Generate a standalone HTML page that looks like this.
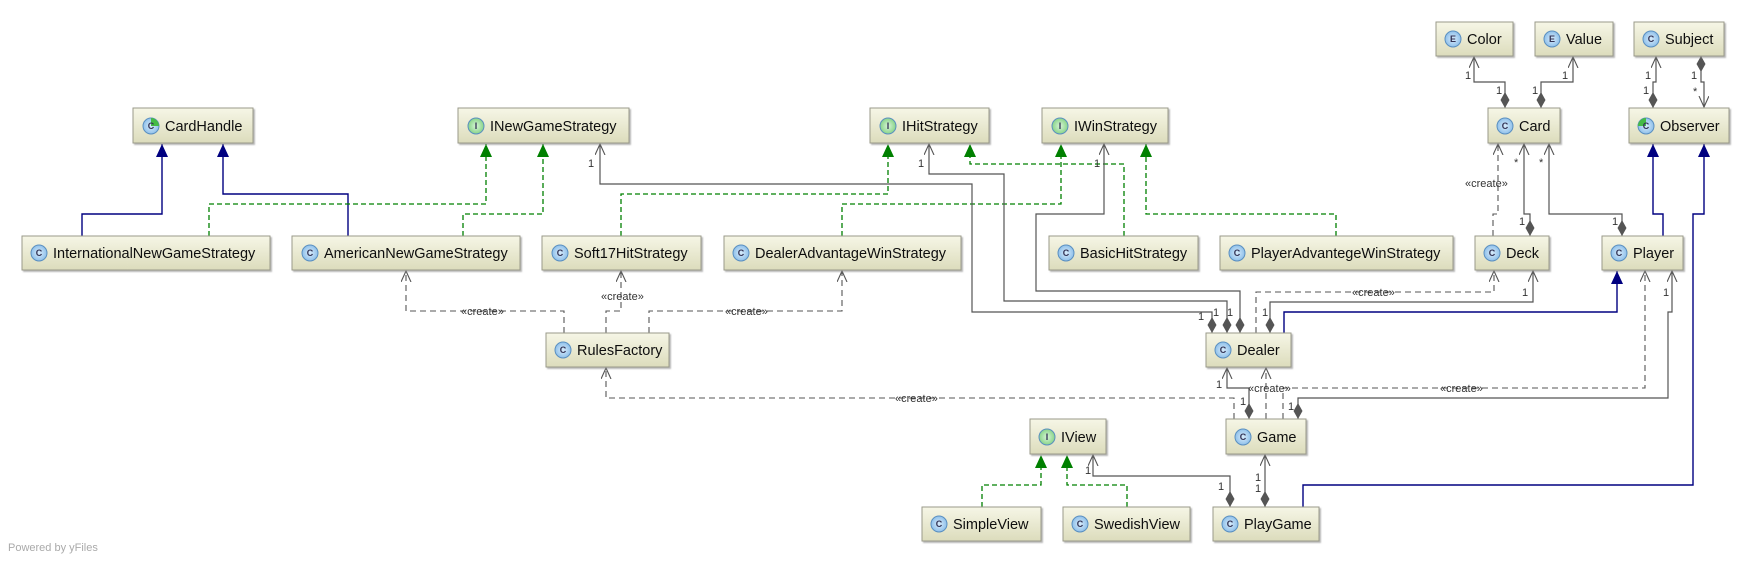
<!DOCTYPE html>
<html><head><meta charset="utf-8"><style>
html,body{margin:0;padding:0;background:#fff}
svg{display:block}
.n rect.b{fill:url(#g);stroke:#9a9a8a;stroke-width:1}
.n text{font-family:"Liberation Sans",sans-serif;font-size:14.5px;fill:#111}
.ic{stroke:#5a8fc0;stroke-width:1}
.it{font-family:"Liberation Sans",sans-serif;font-size:9px;fill:#334;font-weight:bold}
.a{fill:none;stroke:#555;stroke-width:1.2}
.d{fill:none;stroke:#555;stroke-width:1.1;stroke-dasharray:6,4}
.gr{fill:none;stroke:#008000;stroke-width:1.3;stroke-dasharray:5,3}
.bl{fill:none;stroke:#000080;stroke-width:1.4}
.l{font-family:"Liberation Sans",sans-serif;font-size:11px;fill:#333}
</style></head><body>
<svg width="1753" height="562" viewBox="0 0 1753 562" xmlns="http://www.w3.org/2000/svg">
<defs>
<linearGradient id="g" x1="0" y1="0" x2="0" y2="1"><stop offset="0" stop-color="#f6f6e6"/><stop offset="1" stop-color="#dcdcbc"/></linearGradient>
<radialGradient id="cb"><stop offset="0" stop-color="#d8ecfb"/><stop offset="1" stop-color="#8fc0ea"/></radialGradient>
<radialGradient id="cg"><stop offset="0" stop-color="#d8f5d8"/><stop offset="1" stop-color="#88d488"/></radialGradient>
<marker id="oa" markerUnits="userSpaceOnUse" markerWidth="12" markerHeight="12" refX="11" refY="5" orient="auto"><path d="M0,0 L11,5 L0,10" fill="none" stroke="#555" stroke-width="1.1"/></marker>
<marker id="tb" markerUnits="userSpaceOnUse" markerWidth="14" markerHeight="12" refX="13" refY="6" orient="auto"><path d="M0,0 L13,6 L0,12 z" fill="#000080"/></marker>
<marker id="tg" markerUnits="userSpaceOnUse" markerWidth="14" markerHeight="12" refX="13" refY="6" orient="auto"><path d="M0,0 L13,6 L0,12 z" fill="#008000"/></marker>
<marker id="dm" markerUnits="userSpaceOnUse" markerWidth="16" markerHeight="10" refX="0" refY="4.5" orient="auto"><path d="M0,4.5 L8,0 L16,4.5 L8,9 z" fill="#555"/></marker>
<filter id="sh"><feDropShadow dx="1.5" dy="1.5" stdDeviation="0.8" flood-color="#888" flood-opacity="0.6"/></filter>
</defs>

<!-- edges -->
<polyline class="bl" marker-end="url(#tb)" points="82,236 82,214 162,214 162,144"/>
<polyline class="bl" marker-end="url(#tb)" points="348,236 348,194 223,194 223,144"/>
<polyline class="gr" marker-end="url(#tg)" points="209,236 209,204 486,204 486,144"/>
<polyline class="gr" marker-end="url(#tg)" points="463,236 463,214 543,214 543,144"/>
<polyline class="gr" marker-end="url(#tg)" points="621,236 621,194 888,194 888,144"/>
<polyline class="gr" marker-end="url(#tg)" points="842,236 842,204 1061,204 1061,144"/>
<polyline class="gr" marker-end="url(#tg)" points="1124,236 1124,164 970,164 970,144"/>
<polyline class="gr" marker-end="url(#tg)" points="1336,236 1336,214 1146,214 1146,144"/>
<polyline class="a" marker-start="url(#dm)" marker-end="url(#oa)" points="1212,333 1212,312 972,312 972,184 600,184 600,144"/>
<polyline class="a" marker-start="url(#dm)" marker-end="url(#oa)" points="1227,333 1227,301 1004,301 1004,174 929,174 929,144"/>
<polyline class="a" marker-start="url(#dm)" marker-end="url(#oa)" points="1240,333 1240,291 1036,291 1036,214 1104,214 1104,144"/>
<polyline class="d" marker-end="url(#oa)" points="1256,333 1256,292 1494,292 1494,271"/>
<polyline class="a" marker-start="url(#dm)" marker-end="url(#oa)" points="1270,333 1270,302 1533,302 1533,271"/>
<polyline class="bl" marker-end="url(#tb)" points="1284,333 1284,312 1617,312 1617,271"/>
<polyline class="a" marker-start="url(#dm)" marker-end="url(#oa)" points="1249,419 1249,388 1227,388 1227,368"/>
<polyline class="d" marker-end="url(#oa)" points="1266,419 1266,368"/>
<polyline class="d" marker-end="url(#oa)" points="1283,419 1283,388 1645,388 1645,271"/>
<polyline class="a" marker-start="url(#dm)" marker-end="url(#oa)" points="1298,419 1298,398 1668,398 1668,312 1672,312 1672,271"/>
<polyline class="d" marker-end="url(#oa)" points="1234,419 1234,398 606,398 606,368"/>
<polyline class="a" marker-start="url(#dm)" marker-end="url(#oa)" points="1230,507 1230,476 1093,476 1093,455"/>
<polyline class="a" marker-start="url(#dm)" marker-end="url(#oa)" points="1265,507 1265,455"/>
<polyline class="gr" marker-end="url(#tg)" points="982,507 982,485 1041,485 1041,455"/>
<polyline class="gr" marker-end="url(#tg)" points="1127,507 1127,485 1067,485 1067,455"/>
<polyline class="bl" marker-end="url(#tb)" points="1303,507 1303,485 1693,485 1693,214 1704,214 1704,144"/>
<polyline class="bl" marker-end="url(#tb)" points="1663,236 1663,214 1653,214 1653,144"/>
<polyline class="a" marker-start="url(#dm)" marker-end="url(#oa)" points="1505,108 1505,82 1474,82 1474,57"/>
<polyline class="a" marker-start="url(#dm)" marker-end="url(#oa)" points="1541,108 1541,82 1573,82 1573,57"/>
<polyline class="a" marker-start="url(#dm)" marker-end="url(#oa)" points="1653,108 1653,82 1656,82 1656,57"/>
<polyline class="a" marker-start="url(#dm)" marker-end="url(#oa)" points="1701,56 1701,82 1704,82 1704,107"/>
<polyline class="d" marker-end="url(#oa)" points="1493,236 1493,214 1498,214 1498,144"/>
<polyline class="a" marker-start="url(#dm)" marker-end="url(#oa)" points="1530,236 1530,214 1524,214 1524,144"/>
<polyline class="a" marker-start="url(#dm)" marker-end="url(#oa)" points="1622,236 1622,214 1549,214 1549,144"/>
<polyline class="d" marker-end="url(#oa)" points="564,333 564,311 406,311 406,271"/>
<polyline class="d" marker-end="url(#oa)" points="606,333 606,311 621,311 621,271"/>
<polyline class="d" marker-end="url(#oa)" points="649,333 649,311 842,311 842,271"/>

<!-- labels -->
<g class="l">
<text x="461" y="315">«create»</text>
<text x="601" y="300">«create»</text>
<text x="725" y="315">«create»</text>
<text x="1352" y="296">«create»</text>
<text x="1248" y="392">«create»</text>
<text x="1440" y="392">«create»</text>
<text x="895" y="402">«create»</text>
<text x="1465" y="187">«create»</text>
<text x="588" y="167">1</text><text x="918" y="167">1</text><text x="1094" y="167">1</text>
<text x="1198" y="320">1</text><text x="1213" y="316">1</text><text x="1227" y="316">1</text><text x="1262" y="316">1</text>
<text x="1522" y="296">1</text><text x="1663" y="296">1</text>
<text x="1216" y="388">1</text><text x="1240" y="405">1</text><text x="1288" y="410">1</text>
<text x="1085" y="474">1</text><text x="1218" y="490">1</text><text x="1255" y="481">1</text><text x="1255" y="492">1</text>
<text x="1465" y="79">1</text><text x="1496" y="94">1</text><text x="1562" y="79">1</text><text x="1532" y="94">1</text>
<text x="1645" y="79">1</text><text x="1643" y="94">1</text><text x="1691" y="79">1</text><text x="1693" y="95">*</text>
<text x="1514" y="166">*</text><text x="1539" y="166">*</text>
<text x="1519" y="225">1</text><text x="1612" y="225">1</text>
</g>

<!-- nodes -->
<g class="n" filter="url(#sh)">
<g><rect class="b" x="133" y="108" width="120" height="35"/><circle class="ic" cx="151" cy="126" r="8" fill="url(#cb)"/><path d="M151,118 A8,8 0 0 1 159,126 L151,126 z" fill="#44bb44"/><text x="165" y="131">CardHandle</text></g>
<g><rect class="b" x="458" y="108" width="171" height="35"/><circle class="ic" cx="476" cy="126" r="8" fill="url(#cg)" stroke="#6a6"/><text x="490" y="131">INewGameStrategy</text></g>
<g><rect class="b" x="870" y="108" width="119" height="35"/><circle class="ic" cx="888" cy="126" r="8" fill="url(#cg)" stroke="#6a6"/><text x="902" y="131">IHitStrategy</text></g>
<g><rect class="b" x="1042" y="108" width="126" height="35"/><circle class="ic" cx="1060" cy="126" r="8" fill="url(#cg)" stroke="#6a6"/><text x="1074" y="131">IWinStrategy</text></g>
<g><rect class="b" x="1436" y="22" width="77" height="34"/><circle class="ic" cx="1453" cy="39" r="8" fill="url(#cb)"/><text x="1467" y="44">Color</text></g>
<g><rect class="b" x="1535" y="22" width="78" height="34"/><circle class="ic" cx="1552" cy="39" r="8" fill="url(#cb)"/><text x="1566" y="44">Value</text></g>
<g><rect class="b" x="1634" y="22" width="90" height="34"/><circle class="ic" cx="1651" cy="39" r="8" fill="url(#cb)"/><text x="1665" y="44">Subject</text></g>
<g><rect class="b" x="1488" y="108" width="72" height="35"/><circle class="ic" cx="1505" cy="126" r="8" fill="url(#cb)"/><text x="1519" y="131">Card</text></g>
<g><rect class="b" x="1629" y="108" width="100" height="35"/><circle class="ic" cx="1646" cy="126" r="8" fill="url(#cb)"/><path d="M1646,118 A8,8 0 0 0 1638,126 L1646,126 z" fill="#44bb44"/><text x="1660" y="131">Observer</text></g>
<g><rect class="b" x="22" y="236" width="248" height="34"/><circle class="ic" cx="39" cy="253" r="8" fill="url(#cb)"/><text x="53" y="258">InternationalNewGameStrategy</text></g>
<g><rect class="b" x="292" y="236" width="228" height="34"/><circle class="ic" cx="310" cy="253" r="8" fill="url(#cb)"/><text x="324" y="258">AmericanNewGameStrategy</text></g>
<g><rect class="b" x="542" y="236" width="159" height="34"/><circle class="ic" cx="560" cy="253" r="8" fill="url(#cb)"/><text x="574" y="258">Soft17HitStrategy</text></g>
<g><rect class="b" x="724" y="236" width="237" height="34"/><circle class="ic" cx="741" cy="253" r="8" fill="url(#cb)"/><text x="755" y="258">DealerAdvantageWinStrategy</text></g>
<g><rect class="b" x="1049" y="236" width="149" height="34"/><circle class="ic" cx="1066" cy="253" r="8" fill="url(#cb)"/><text x="1080" y="258">BasicHitStrategy</text></g>
<g><rect class="b" x="1220" y="236" width="233" height="34"/><circle class="ic" cx="1237" cy="253" r="8" fill="url(#cb)"/><text x="1251" y="258">PlayerAdvantegeWinStrategy</text></g>
<g><rect class="b" x="1475" y="236" width="74" height="34"/><circle class="ic" cx="1492" cy="253" r="8" fill="url(#cb)"/><text x="1506" y="258">Deck</text></g>
<g><rect class="b" x="1602" y="236" width="81" height="34"/><circle class="ic" cx="1619" cy="253" r="8" fill="url(#cb)"/><text x="1633" y="258">Player</text></g>
<g><rect class="b" x="546" y="333" width="123" height="34"/><circle class="ic" cx="563" cy="350" r="8" fill="url(#cb)"/><text x="577" y="355">RulesFactory</text></g>
<g><rect class="b" x="1206" y="333" width="85" height="34"/><circle class="ic" cx="1223" cy="350" r="8" fill="url(#cb)"/><text x="1237" y="355">Dealer</text></g>
<g><rect class="b" x="1030" y="419" width="76" height="35"/><circle class="ic" cx="1047" cy="437" r="8" fill="url(#cg)" stroke="#6a6"/><text x="1061" y="442">IView</text></g>
<g><rect class="b" x="1226" y="419" width="80" height="35"/><circle class="ic" cx="1243" cy="437" r="8" fill="url(#cb)"/><text x="1257" y="442">Game</text></g>
<g><rect class="b" x="922" y="507" width="119" height="34"/><circle class="ic" cx="939" cy="524" r="8" fill="url(#cb)"/><text x="953" y="529">SimpleView</text></g>
<g><rect class="b" x="1063" y="507" width="127" height="34"/><circle class="ic" cx="1080" cy="524" r="8" fill="url(#cb)"/><text x="1094" y="529">SwedishView</text></g>
<g><rect class="b" x="1213" y="507" width="106" height="34"/><circle class="ic" cx="1230" cy="524" r="8" fill="url(#cb)"/><text x="1244" y="529">PlayGame</text></g>
</g>
<g font-family="Liberation Sans,sans-serif" font-size="9" font-weight="bold" fill="#335" text-anchor="middle">
<text x="151" y="129">C</text><text x="476" y="129">I</text><text x="888" y="129">I</text><text x="1060" y="129">I</text>
<text x="1453" y="42">E</text><text x="1552" y="42">E</text><text x="1651" y="42">C</text><text x="1505" y="129">C</text><text x="1646" y="129">C</text>
<text x="39" y="256">C</text><text x="310" y="256">C</text><text x="560" y="256">C</text><text x="741" y="256">C</text><text x="1066" y="256">C</text><text x="1237" y="256">C</text><text x="1492" y="256">C</text><text x="1619" y="256">C</text>
<text x="563" y="353">C</text><text x="1223" y="353">C</text><text x="1047" y="440">I</text><text x="1243" y="440">C</text>
<text x="939" y="527">C</text><text x="1080" y="527">C</text><text x="1230" y="527">C</text>
</g>
<text x="8" y="551" font-family="Liberation Sans,sans-serif" font-size="11" fill="#aaa">Powered by yFiles</text>
</svg>
</body></html>
